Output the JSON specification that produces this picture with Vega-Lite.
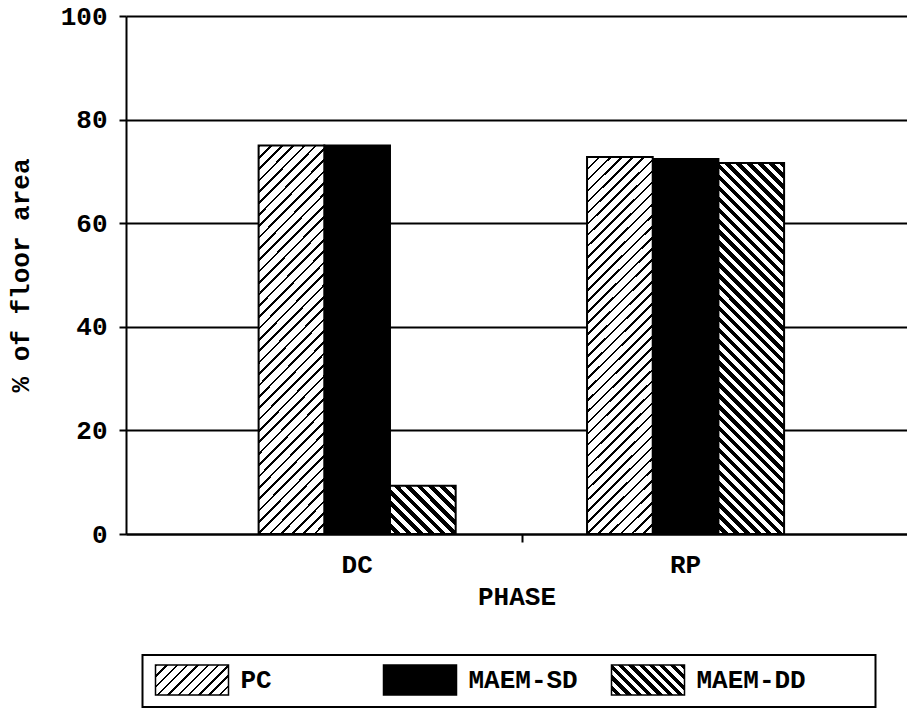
{
"$schema": "https://vega.github.io/schema/vega-lite/v6.json",
"autosize": {"type": "none"},
"padding": {"left": 126, "top": 16, "right": 0, "bottom": 178},
"width": 781,
"height": 518,
"background": "#ffffff",
"data": {"values": [
 {"phase": "DC", "series": "PC", "value": 75},
 {"phase": "DC", "series": "MAEM-SD", "value": 75},
 {"phase": "DC", "series": "MAEM-DD", "value": 9.3},
 {"phase": "RP", "series": "PC", "value": 72.8},
 {"phase": "RP", "series": "MAEM-SD", "value": 72.4},
 {"phase": "RP", "series": "MAEM-DD", "value": 71.6}
]},
"encoding": {
 "xOffset": {"field": "series", "type": "nominal", "scale": {"domain": ["PC", "MAEM-SD", "MAEM-DD"], "paddingInner": 0, "paddingOuter": 0}},
 "y": {"field": "value", "type": "quantitative",
  "scale": {"domain": [0, 100], "nice": false},
  "axis": {"title": "% of floor area", "values": [0, 20, 40, 60, 80, 100], "grid": true, "tickSize": 7, "labelPadding": 12, "titlePadding": 27}}
},
"layer": [
 {
  "transform": [{"filter": "datum.series === 'MAEM-SD'"}],
  "mark": {"type": "bar", "stroke": "#000", "strokeWidth": 2},
  "encoding": {
   "x": {"field": "phase", "type": "nominal", "sort": ["DC", "RP"],
    "scale": {"paddingInner": 0.4, "paddingOuter": 0.389, "align": 0.519},
    "axis": {"orient": "bottom", "title": "PHASE", "ticks": false, "tickSize": 0, "labelAngle": 0, "labelPadding": 17, "titlePadding": 6, "grid": false}},
   "color": {"field": "series", "type": "nominal",
    "scale": {"domain": ["PC", "MAEM-SD", "MAEM-DD"], "range": [
     {"expr": "{gradient: 'linear', x1: 0, y1: 0, x2: 1.2071, y2: 0.4961, stops: [{offset: 0, color: '#000'}, {offset: 0.024, color: '#000'}, {offset: 0.024, color: '#fff'}, {offset: 0.1, color: '#fff'}, {offset: 0.1, color: '#000'}, {offset: 0.124, color: '#000'}, {offset: 0.124, color: '#fff'}, {offset: 0.2, color: '#fff'}, {offset: 0.2, color: '#000'}, {offset: 0.224, color: '#000'}, {offset: 0.224, color: '#fff'}, {offset: 0.3, color: '#fff'}, {offset: 0.3, color: '#000'}, {offset: 0.324, color: '#000'}, {offset: 0.324, color: '#fff'}, {offset: 0.4, color: '#fff'}, {offset: 0.4, color: '#000'}, {offset: 0.424, color: '#000'}, {offset: 0.424, color: '#fff'}, {offset: 0.5, color: '#fff'}, {offset: 0.5, color: '#000'}, {offset: 0.524, color: '#000'}, {offset: 0.524, color: '#fff'}, {offset: 0.6, color: '#fff'}, {offset: 0.6, color: '#000'}, {offset: 0.624, color: '#000'}, {offset: 0.624, color: '#fff'}, {offset: 0.7, color: '#fff'}, {offset: 0.7, color: '#000'}, {offset: 0.724, color: '#000'}, {offset: 0.724, color: '#fff'}, {offset: 0.8, color: '#fff'}, {offset: 0.8, color: '#000'}, {offset: 0.824, color: '#000'}, {offset: 0.824, color: '#fff'}, {offset: 0.9, color: '#fff'}, {offset: 0.9, color: '#000'}, {offset: 0.924, color: '#000'}, {offset: 0.924, color: '#fff'}, {offset: 1, color: '#fff'}]}"},
     "#000000",
     {"expr": "{gradient: 'linear', x1: 1, y1: 0, x2: -0.2071, y2: 0.4961, stops: [{offset: 0, color: '#000'}, {offset: 0.05, color: '#000'}, {offset: 0.05, color: '#fff'}, {offset: 0.1, color: '#fff'}, {offset: 0.1, color: '#000'}, {offset: 0.15, color: '#000'}, {offset: 0.15, color: '#fff'}, {offset: 0.2, color: '#fff'}, {offset: 0.2, color: '#000'}, {offset: 0.25, color: '#000'}, {offset: 0.25, color: '#fff'}, {offset: 0.3, color: '#fff'}, {offset: 0.3, color: '#000'}, {offset: 0.35, color: '#000'}, {offset: 0.35, color: '#fff'}, {offset: 0.4, color: '#fff'}, {offset: 0.4, color: '#000'}, {offset: 0.45, color: '#000'}, {offset: 0.45, color: '#fff'}, {offset: 0.5, color: '#fff'}, {offset: 0.5, color: '#000'}, {offset: 0.55, color: '#000'}, {offset: 0.55, color: '#fff'}, {offset: 0.6, color: '#fff'}, {offset: 0.6, color: '#000'}, {offset: 0.65, color: '#000'}, {offset: 0.65, color: '#fff'}, {offset: 0.7, color: '#fff'}, {offset: 0.7, color: '#000'}, {offset: 0.75, color: '#000'}, {offset: 0.75, color: '#fff'}, {offset: 0.8, color: '#fff'}, {offset: 0.8, color: '#000'}, {offset: 0.85, color: '#000'}, {offset: 0.85, color: '#fff'}, {offset: 0.9, color: '#fff'}, {offset: 0.9, color: '#000'}, {offset: 0.95, color: '#000'}, {offset: 0.95, color: '#fff'}, {offset: 1, color: '#fff'}]}"}
    ]},
    "legend": {
     "orient": "none", "legendX": 16.5, "legendY": 639, "direction": "horizontal",
     "title": "\u2800\u2800\u2800", "titleOrient": "right", "titlePadding": 4, "titleFont": "DejaVu Sans", "titleFontSize": 24,
     "gridAlign": "all", "columnPadding": 29, "padding": 9,
     "strokeColor": "#000", "fillColor": "#fff",
     "symbolType": "M-0.8,-1H4.067V1H-0.8Z", "symbolSize": 900, "symbolStrokeColor": "#000", "symbolStrokeWidth": 1.5,
     "labelOffset": 57, "labelFont": "Liberation Mono", "labelFontSize": 26, "labelFontWeight": "bold", "labelColor": "#000", "labelLimit": 500
    }
   }
  }
 },
 {
  "transform": [{"filter": "datum.series === 'PC'"}],
  "mark": {"type": "bar", "stroke": "#000", "strokeWidth": 2,
   "fill": {"gradient": "linear", "x1": 0, "y1": 0, "x2": 0.1952, "y2": 1.138, "stops": [
{"offset":0,"color":"#000"},{"offset":0.006,"color":"#000"},{"offset":0.006,"color":"#fff"},{"offset":0.025,"color":"#fff"},
{"offset":0.025,"color":"#000"},{"offset":0.031,"color":"#000"},{"offset":0.031,"color":"#fff"},{"offset":0.05,"color":"#fff"},
{"offset":0.05,"color":"#000"},{"offset":0.056,"color":"#000"},{"offset":0.056,"color":"#fff"},{"offset":0.075,"color":"#fff"},
{"offset":0.075,"color":"#000"},{"offset":0.081,"color":"#000"},{"offset":0.081,"color":"#fff"},{"offset":0.1,"color":"#fff"},
{"offset":0.1,"color":"#000"},{"offset":0.106,"color":"#000"},{"offset":0.106,"color":"#fff"},{"offset":0.125,"color":"#fff"},
{"offset":0.125,"color":"#000"},{"offset":0.131,"color":"#000"},{"offset":0.131,"color":"#fff"},{"offset":0.15,"color":"#fff"},
{"offset":0.15,"color":"#000"},{"offset":0.156,"color":"#000"},{"offset":0.156,"color":"#fff"},{"offset":0.175,"color":"#fff"},
{"offset":0.175,"color":"#000"},{"offset":0.181,"color":"#000"},{"offset":0.181,"color":"#fff"},{"offset":0.2,"color":"#fff"},
{"offset":0.2,"color":"#000"},{"offset":0.206,"color":"#000"},{"offset":0.206,"color":"#fff"},{"offset":0.225,"color":"#fff"},
{"offset":0.225,"color":"#000"},{"offset":0.231,"color":"#000"},{"offset":0.231,"color":"#fff"},{"offset":0.25,"color":"#fff"},
{"offset":0.25,"color":"#000"},{"offset":0.256,"color":"#000"},{"offset":0.256,"color":"#fff"},{"offset":0.275,"color":"#fff"},
{"offset":0.275,"color":"#000"},{"offset":0.281,"color":"#000"},{"offset":0.281,"color":"#fff"},{"offset":0.3,"color":"#fff"},
{"offset":0.3,"color":"#000"},{"offset":0.306,"color":"#000"},{"offset":0.306,"color":"#fff"},{"offset":0.325,"color":"#fff"},
{"offset":0.325,"color":"#000"},{"offset":0.331,"color":"#000"},{"offset":0.331,"color":"#fff"},{"offset":0.35,"color":"#fff"},
{"offset":0.35,"color":"#000"},{"offset":0.356,"color":"#000"},{"offset":0.356,"color":"#fff"},{"offset":0.375,"color":"#fff"},
{"offset":0.375,"color":"#000"},{"offset":0.381,"color":"#000"},{"offset":0.381,"color":"#fff"},{"offset":0.4,"color":"#fff"},
{"offset":0.4,"color":"#000"},{"offset":0.406,"color":"#000"},{"offset":0.406,"color":"#fff"},{"offset":0.425,"color":"#fff"},
{"offset":0.425,"color":"#000"},{"offset":0.431,"color":"#000"},{"offset":0.431,"color":"#fff"},{"offset":0.45,"color":"#fff"},
{"offset":0.45,"color":"#000"},{"offset":0.456,"color":"#000"},{"offset":0.456,"color":"#fff"},{"offset":0.475,"color":"#fff"},
{"offset":0.475,"color":"#000"},{"offset":0.481,"color":"#000"},{"offset":0.481,"color":"#fff"},{"offset":0.5,"color":"#fff"},
{"offset":0.5,"color":"#000"},{"offset":0.506,"color":"#000"},{"offset":0.506,"color":"#fff"},{"offset":0.525,"color":"#fff"},
{"offset":0.525,"color":"#000"},{"offset":0.531,"color":"#000"},{"offset":0.531,"color":"#fff"},{"offset":0.55,"color":"#fff"},
{"offset":0.55,"color":"#000"},{"offset":0.556,"color":"#000"},{"offset":0.556,"color":"#fff"},{"offset":0.575,"color":"#fff"},
{"offset":0.575,"color":"#000"},{"offset":0.581,"color":"#000"},{"offset":0.581,"color":"#fff"},{"offset":0.6,"color":"#fff"},
{"offset":0.6,"color":"#000"},{"offset":0.606,"color":"#000"},{"offset":0.606,"color":"#fff"},{"offset":0.625,"color":"#fff"},
{"offset":0.625,"color":"#000"},{"offset":0.631,"color":"#000"},{"offset":0.631,"color":"#fff"},{"offset":0.65,"color":"#fff"},
{"offset":0.65,"color":"#000"},{"offset":0.656,"color":"#000"},{"offset":0.656,"color":"#fff"},{"offset":0.675,"color":"#fff"},
{"offset":0.675,"color":"#000"},{"offset":0.681,"color":"#000"},{"offset":0.681,"color":"#fff"},{"offset":0.7,"color":"#fff"},
{"offset":0.7,"color":"#000"},{"offset":0.706,"color":"#000"},{"offset":0.706,"color":"#fff"},{"offset":0.725,"color":"#fff"},
{"offset":0.725,"color":"#000"},{"offset":0.731,"color":"#000"},{"offset":0.731,"color":"#fff"},{"offset":0.75,"color":"#fff"},
{"offset":0.75,"color":"#000"},{"offset":0.756,"color":"#000"},{"offset":0.756,"color":"#fff"},{"offset":0.775,"color":"#fff"},
{"offset":0.775,"color":"#000"},{"offset":0.781,"color":"#000"},{"offset":0.781,"color":"#fff"},{"offset":0.8,"color":"#fff"},
{"offset":0.8,"color":"#000"},{"offset":0.806,"color":"#000"},{"offset":0.806,"color":"#fff"},{"offset":0.825,"color":"#fff"},
{"offset":0.825,"color":"#000"},{"offset":0.831,"color":"#000"},{"offset":0.831,"color":"#fff"},{"offset":0.85,"color":"#fff"},
{"offset":0.85,"color":"#000"},{"offset":0.856,"color":"#000"},{"offset":0.856,"color":"#fff"},{"offset":0.875,"color":"#fff"},
{"offset":0.875,"color":"#000"},{"offset":0.881,"color":"#000"},{"offset":0.881,"color":"#fff"},{"offset":0.9,"color":"#fff"},
{"offset":0.9,"color":"#000"},{"offset":0.906,"color":"#000"},{"offset":0.906,"color":"#fff"},{"offset":0.925,"color":"#fff"},
{"offset":0.925,"color":"#000"},{"offset":0.931,"color":"#000"},{"offset":0.931,"color":"#fff"},{"offset":0.95,"color":"#fff"},
{"offset":0.95,"color":"#000"},{"offset":0.956,"color":"#000"},{"offset":0.956,"color":"#fff"},{"offset":0.975,"color":"#fff"},
{"offset":0.975,"color":"#000"},{"offset":0.981,"color":"#000"},{"offset":0.981,"color":"#fff"},{"offset":1,"color":"#fff"}
   ]}},
  "encoding": {
   "x": {"field": "phase", "type": "nominal", "sort": ["DC", "RP"], "axis": null}
  }
 },
 {
  "transform": [{"filter": "datum.phase === 'RP' && datum.series === 'MAEM-DD'"}],
  "mark": {"type": "bar", "stroke": "#000", "strokeWidth": 2,
   "fill": {"gradient": "linear", "x1": 1, "y1": 0, "x2": 0.7978, "y2": 1.1413, "stops": [
{"offset":0,"color":"#000"},{"offset":0.0125,"color":"#000"},{"offset":0.0125,"color":"#fff"},{"offset":0.025,"color":"#fff"},
{"offset":0.025,"color":"#000"},{"offset":0.0375,"color":"#000"},{"offset":0.0375,"color":"#fff"},{"offset":0.05,"color":"#fff"},
{"offset":0.05,"color":"#000"},{"offset":0.0625,"color":"#000"},{"offset":0.0625,"color":"#fff"},{"offset":0.075,"color":"#fff"},
{"offset":0.075,"color":"#000"},{"offset":0.0875,"color":"#000"},{"offset":0.0875,"color":"#fff"},{"offset":0.1,"color":"#fff"},
{"offset":0.1,"color":"#000"},{"offset":0.1125,"color":"#000"},{"offset":0.1125,"color":"#fff"},{"offset":0.125,"color":"#fff"},
{"offset":0.125,"color":"#000"},{"offset":0.1375,"color":"#000"},{"offset":0.1375,"color":"#fff"},{"offset":0.15,"color":"#fff"},
{"offset":0.15,"color":"#000"},{"offset":0.1625,"color":"#000"},{"offset":0.1625,"color":"#fff"},{"offset":0.175,"color":"#fff"},
{"offset":0.175,"color":"#000"},{"offset":0.1875,"color":"#000"},{"offset":0.1875,"color":"#fff"},{"offset":0.2,"color":"#fff"},
{"offset":0.2,"color":"#000"},{"offset":0.2125,"color":"#000"},{"offset":0.2125,"color":"#fff"},{"offset":0.225,"color":"#fff"},
{"offset":0.225,"color":"#000"},{"offset":0.2375,"color":"#000"},{"offset":0.2375,"color":"#fff"},{"offset":0.25,"color":"#fff"},
{"offset":0.25,"color":"#000"},{"offset":0.2625,"color":"#000"},{"offset":0.2625,"color":"#fff"},{"offset":0.275,"color":"#fff"},
{"offset":0.275,"color":"#000"},{"offset":0.2875,"color":"#000"},{"offset":0.2875,"color":"#fff"},{"offset":0.3,"color":"#fff"},
{"offset":0.3,"color":"#000"},{"offset":0.3125,"color":"#000"},{"offset":0.3125,"color":"#fff"},{"offset":0.325,"color":"#fff"},
{"offset":0.325,"color":"#000"},{"offset":0.3375,"color":"#000"},{"offset":0.3375,"color":"#fff"},{"offset":0.35,"color":"#fff"},
{"offset":0.35,"color":"#000"},{"offset":0.3625,"color":"#000"},{"offset":0.3625,"color":"#fff"},{"offset":0.375,"color":"#fff"},
{"offset":0.375,"color":"#000"},{"offset":0.3875,"color":"#000"},{"offset":0.3875,"color":"#fff"},{"offset":0.4,"color":"#fff"},
{"offset":0.4,"color":"#000"},{"offset":0.4125,"color":"#000"},{"offset":0.4125,"color":"#fff"},{"offset":0.425,"color":"#fff"},
{"offset":0.425,"color":"#000"},{"offset":0.4375,"color":"#000"},{"offset":0.4375,"color":"#fff"},{"offset":0.45,"color":"#fff"},
{"offset":0.45,"color":"#000"},{"offset":0.4625,"color":"#000"},{"offset":0.4625,"color":"#fff"},{"offset":0.475,"color":"#fff"},
{"offset":0.475,"color":"#000"},{"offset":0.4875,"color":"#000"},{"offset":0.4875,"color":"#fff"},{"offset":0.5,"color":"#fff"},
{"offset":0.5,"color":"#000"},{"offset":0.5125,"color":"#000"},{"offset":0.5125,"color":"#fff"},{"offset":0.525,"color":"#fff"},
{"offset":0.525,"color":"#000"},{"offset":0.5375,"color":"#000"},{"offset":0.5375,"color":"#fff"},{"offset":0.55,"color":"#fff"},
{"offset":0.55,"color":"#000"},{"offset":0.5625,"color":"#000"},{"offset":0.5625,"color":"#fff"},{"offset":0.575,"color":"#fff"},
{"offset":0.575,"color":"#000"},{"offset":0.5875,"color":"#000"},{"offset":0.5875,"color":"#fff"},{"offset":0.6,"color":"#fff"},
{"offset":0.6,"color":"#000"},{"offset":0.6125,"color":"#000"},{"offset":0.6125,"color":"#fff"},{"offset":0.625,"color":"#fff"},
{"offset":0.625,"color":"#000"},{"offset":0.6375,"color":"#000"},{"offset":0.6375,"color":"#fff"},{"offset":0.65,"color":"#fff"},
{"offset":0.65,"color":"#000"},{"offset":0.6625,"color":"#000"},{"offset":0.6625,"color":"#fff"},{"offset":0.675,"color":"#fff"},
{"offset":0.675,"color":"#000"},{"offset":0.6875,"color":"#000"},{"offset":0.6875,"color":"#fff"},{"offset":0.7,"color":"#fff"},
{"offset":0.7,"color":"#000"},{"offset":0.7125,"color":"#000"},{"offset":0.7125,"color":"#fff"},{"offset":0.725,"color":"#fff"},
{"offset":0.725,"color":"#000"},{"offset":0.7375,"color":"#000"},{"offset":0.7375,"color":"#fff"},{"offset":0.75,"color":"#fff"},
{"offset":0.75,"color":"#000"},{"offset":0.7625,"color":"#000"},{"offset":0.7625,"color":"#fff"},{"offset":0.775,"color":"#fff"},
{"offset":0.775,"color":"#000"},{"offset":0.7875,"color":"#000"},{"offset":0.7875,"color":"#fff"},{"offset":0.8,"color":"#fff"},
{"offset":0.8,"color":"#000"},{"offset":0.8125,"color":"#000"},{"offset":0.8125,"color":"#fff"},{"offset":0.825,"color":"#fff"},
{"offset":0.825,"color":"#000"},{"offset":0.8375,"color":"#000"},{"offset":0.8375,"color":"#fff"},{"offset":0.85,"color":"#fff"},
{"offset":0.85,"color":"#000"},{"offset":0.8625,"color":"#000"},{"offset":0.8625,"color":"#fff"},{"offset":0.875,"color":"#fff"},
{"offset":0.875,"color":"#000"},{"offset":0.8875,"color":"#000"},{"offset":0.8875,"color":"#fff"},{"offset":0.9,"color":"#fff"},
{"offset":0.9,"color":"#000"},{"offset":0.9125,"color":"#000"},{"offset":0.9125,"color":"#fff"},{"offset":0.925,"color":"#fff"},
{"offset":0.925,"color":"#000"},{"offset":0.9375,"color":"#000"},{"offset":0.9375,"color":"#fff"},{"offset":0.95,"color":"#fff"},
{"offset":0.95,"color":"#000"},{"offset":0.9625,"color":"#000"},{"offset":0.9625,"color":"#fff"},{"offset":0.975,"color":"#fff"},
{"offset":0.975,"color":"#000"},{"offset":0.9875,"color":"#000"},{"offset":0.9875,"color":"#fff"},{"offset":1,"color":"#fff"}
   ]}},
  "encoding": {
   "x": {"field": "phase", "type": "nominal", "sort": ["DC", "RP"], "axis": null}
  }
 },
 {
  "transform": [{"filter": "datum.phase === 'DC' && datum.series === 'MAEM-DD'"}],
  "mark": {"type": "bar", "stroke": "#000", "strokeWidth": 2,
   "fill": {"gradient": "linear", "x1": 1, "y1": 0, "x2": -0.1285, "y2": 0.8242, "stops": [
{"offset":0,"color":"#000"},{"offset":0.05,"color":"#000"},{"offset":0.05,"color":"#fff"},{"offset":0.1,"color":"#fff"},
{"offset":0.1,"color":"#000"},{"offset":0.15,"color":"#000"},{"offset":0.15,"color":"#fff"},{"offset":0.2,"color":"#fff"},
{"offset":0.2,"color":"#000"},{"offset":0.25,"color":"#000"},{"offset":0.25,"color":"#fff"},{"offset":0.3,"color":"#fff"},
{"offset":0.3,"color":"#000"},{"offset":0.35,"color":"#000"},{"offset":0.35,"color":"#fff"},{"offset":0.4,"color":"#fff"},
{"offset":0.4,"color":"#000"},{"offset":0.45,"color":"#000"},{"offset":0.45,"color":"#fff"},{"offset":0.5,"color":"#fff"},
{"offset":0.5,"color":"#000"},{"offset":0.55,"color":"#000"},{"offset":0.55,"color":"#fff"},{"offset":0.6,"color":"#fff"},
{"offset":0.6,"color":"#000"},{"offset":0.65,"color":"#000"},{"offset":0.65,"color":"#fff"},{"offset":0.7,"color":"#fff"},
{"offset":0.7,"color":"#000"},{"offset":0.75,"color":"#000"},{"offset":0.75,"color":"#fff"},{"offset":0.8,"color":"#fff"},
{"offset":0.8,"color":"#000"},{"offset":0.85,"color":"#000"},{"offset":0.85,"color":"#fff"},{"offset":0.9,"color":"#fff"},
{"offset":0.9,"color":"#000"},{"offset":0.95,"color":"#000"},{"offset":0.95,"color":"#fff"},{"offset":1,"color":"#fff"}
   ]}},
  "encoding": {
   "x": {"field": "phase", "type": "nominal", "sort": ["DC", "RP"],
    "axis": {"orient": "bottom", "values": ["RP"], "bandPosition": -0.33, "labels": false, "domain": false, "title": null, "ticks": true, "tickSize": 8, "grid": false}}
  }
 }
],
"resolve": {"axis": {"x": "independent"}},
"config": {
 "view": {"stroke": null},
 "font": "Liberation Mono",
 "legend": {"strokeWidth": 2},
 "axis": {
  "labelFont": "Liberation Mono", "labelFontSize": 26, "labelFontWeight": "bold", "labelColor": "#000",
  "titleFont": "Liberation Mono", "titleFontSize": 26, "titleFontWeight": "bold", "titleColor": "#000",
  "domainColor": "#000", "domainWidth": 2, "tickColor": "#000", "tickWidth": 2,
  "gridColor": "#000", "gridWidth": 2, "gridOpacity": 1
 }
}
}
